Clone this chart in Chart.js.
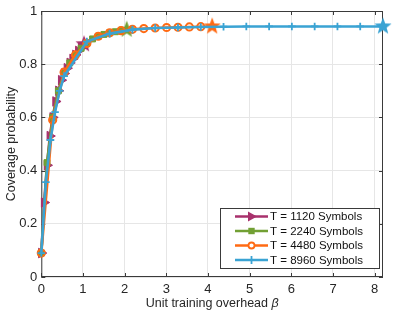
<!DOCTYPE html>
<html>
<head>
<meta charset="utf-8">
<script src="https://cdn.jsdelivr.net/npm/chart.js@4.4.1/dist/chart.umd.min.js"></script>
<style>
  html, body { margin: 0; padding: 0; background: #fff; }
  #wrap { width: 394px; height: 313px; }
</style>
</head>
<body>
<div id="wrap"><canvas id="c" width="394" height="313"></canvas></div>
<script>
// tick labels
const xTicks = [0, 1, 2, 3, 4, 5, 6, 7, 8];
const yTicks = [0, 0.2, 0.4, 0.6, 0.8, 1];

// series
const seriesNames = ['T = 1120 Symbols', 'T = 2240 Symbols', 'T = 4480 Symbols', 'T = 8960 Symbols'];

const beta1120 = [0, 0.068, 0.137, 0.205, 0.273, 0.342, 0.41, 0.478, 0.547, 0.615, 0.683, 0.752, 0.82, 0.888, 0.957, 1.025];
const cov1120  = [0.09, 0.28, 0.42, 0.53, 0.6, 0.66, 0.7, 0.74, 0.765, 0.785, 0.805, 0.82, 0.835, 0.85, 0.862, 0.875];

const beta2240 = [0, 0.137, 0.273, 0.41, 0.547, 0.683, 0.82, 0.957, 1.093, 1.23, 1.367, 1.503, 1.64, 1.777, 1.913, 2.05];
const cov2240  = [0.09, 0.43, 0.6, 0.7, 0.765, 0.805, 0.835, 0.86, 0.88, 0.895, 0.905, 0.912, 0.918, 0.922, 0.926, 0.93];

const beta4480 = [0, 0.273, 0.547, 0.82, 1.093, 1.367, 1.64, 1.913, 2.187, 2.46, 2.733, 3.007, 3.28, 3.553, 3.827, 4.1];
const cov4480  = [0.09, 0.59, 0.77, 0.835, 0.878, 0.905, 0.918, 0.926, 0.931, 0.934, 0.936, 0.938, 0.939, 0.94, 0.941, 0.942];

const beta8960 = [0, 0.11, 0.22, 0.33, 0.44, 0.547, 1.093, 1.64, 2.187, 2.733, 3.28, 3.827, 4.373, 4.92, 5.467, 6.013, 6.56, 7.107, 7.653, 8.2];
const cov8960  = [0.09, 0.357, 0.515, 0.62, 0.7, 0.755, 0.885, 0.915, 0.93, 0.936, 0.938, 0.94, 0.941, 0.942, 0.942, 0.942, 0.942, 0.942, 0.942, 0.942];

const colors = ['#A8316C', '#72A034', '#FF6A13', '#3AA3D3'];

const FONT = '"Liberation Sans", Arial, Helvetica, sans-serif';

// filled pentagram used for the last point of each curve
function makeStar(color, r) {
  const cv = document.createElement('canvas');
  const s = Math.ceil(r * 2 + 2);
  cv.width = s; cv.height = s;
  const g = cv.getContext('2d');
  const c = s / 2;
  g.beginPath();
  for (let i = 0; i < 10; i++) {
    const rad = i % 2 === 0 ? r : r * 0.42;
    const a = -Math.PI / 2 + i * Math.PI / 5;
    const px = c + rad * Math.cos(a), py = c + rad * Math.sin(a);
    if (i === 0) g.moveTo(px, py); else g.lineTo(px, py);
  }
  g.closePath();
  g.fillStyle = color;
  g.fill();
  return cv;
}

function toXY(xs, ys) { return xs.map((x, i) => ({ x: x, y: ys[i] })); }

const markers = [
  { style: 'triangle', rot: 90, r: 5.5, fill: colors[0], bw: 1 },
  { style: 'rect', rot: 0, r: 4.2, fill: colors[1], bw: 1 },
  { style: 'circle', rot: 0, r: 3.6, fill: 'rgba(255,255,255,0)', bw: 2 },
  { style: 'cross', rot: 0, r: 3.8, fill: colors[3], bw: 1.8 }
];

const allBeta = [beta1120, beta2240, beta4480, beta8960];
const allCov = [cov1120, cov2240, cov4480, cov8960];

const datasets = seriesNames.map((name, k) => {
  const star = makeStar(colors[k], 9);
  const last = allBeta[k].length - 1;
  const m = markers[k];
  return {
    label: name,
    data: toXY(allBeta[k], allCov[k]),
    borderColor: colors[k],
    backgroundColor: colors[k],
    borderWidth: 2.6,
    tension: 0,
    clip: false,
    order: 4 - k,
    pointStyle: ctx => ctx.dataIndex === last ? star : m.style,
    pointRotation: ctx => ctx.dataIndex === last ? 0 : m.rot,
    pointRadius: ctx => ctx.dataIndex === last ? 9 : m.r,
    pointBackgroundColor: m.fill,
    pointBorderColor: colors[k],
    pointBorderWidth: m.bw
  };
});

// box, inward ticks, axis titles and legend in MATLAB style
const framePlugin = {
  id: 'frame',
  beforeDatasetsDraw(chart) {
    const { ctx, chartArea: a, scales } = chart;
    ctx.save();
    ctx.strokeStyle = '#3a3a3a';
    ctx.lineWidth = 1;
    ctx.strokeRect(a.left + 0.5, a.top + 0.5, a.right - a.left - 1, a.bottom - a.top - 1);
    ctx.beginPath();
    xTicks.forEach(v => {
      const px = Math.round(scales.x.getPixelForValue(v)) + 0.5;
      ctx.moveTo(px, a.bottom); ctx.lineTo(px, a.bottom - 4);
      ctx.moveTo(px, a.top); ctx.lineTo(px, a.top + 4);
    });
    yTicks.forEach(v => {
      const py = Math.round(scales.y.getPixelForValue(v)) + 0.5;
      ctx.moveTo(a.left, py); ctx.lineTo(a.left + 4, py);
      ctx.moveTo(a.right, py); ctx.lineTo(a.right - 4, py);
    });
    ctx.stroke();
    ctx.restore();
  },
  afterDraw(chart) {
    const { ctx, chartArea: a } = chart;
    ctx.save();
    ctx.fillStyle = '#262626';
    // y title
    ctx.font = '12.5px ' + FONT;
    ctx.textAlign = 'center';
    ctx.textBaseline = 'middle';
    ctx.translate(11.5, (a.top + a.bottom) / 2);
    ctx.rotate(-Math.PI / 2);
    ctx.fillText('Coverage probability', 0, 0);
    ctx.setTransform(1, 0, 0, 1, 0, 0);
    // x title with italic beta
    const t1 = 'Unit training overhead ';
    const t2 = '\u03B2';
    ctx.font = '12.5px ' + FONT;
    const w1 = ctx.measureText(t1).width;
    ctx.font = 'italic 12.5px ' + FONT;
    const w2 = ctx.measureText(t2).width;
    let x0 = (a.left + a.right) / 2 - (w1 + w2) / 2;
    ctx.textAlign = 'left';
    ctx.textBaseline = 'alphabetic';
    ctx.font = '12.5px ' + FONT;
    ctx.fillText(t1, x0, 307);
    ctx.font = 'italic 12.5px ' + FONT;
    ctx.fillText(t2, x0 + w1, 307);

    // legend
    const bx = 220.5, by = 208.5, bw = 159, bh = 60;
    ctx.fillStyle = '#fff';
    ctx.fillRect(bx, by, bw, bh);
    ctx.strokeStyle = '#3a3a3a';
    ctx.lineWidth = 1;
    ctx.strokeRect(bx, by, bw, bh);
    const rowsY = [216.5, 231, 245.5, 260];
    seriesNames.forEach((name, k) => {
      const y = rowsY[k];
      ctx.strokeStyle = colors[k];
      ctx.lineWidth = 2.6;
      ctx.beginPath();
      ctx.moveTo(235, y); ctx.lineTo(268, y);
      ctx.stroke();
      const cx = 251.5;
      ctx.fillStyle = colors[k];
      ctx.beginPath();
      if (k === 0) {
        ctx.moveTo(cx - 3.5, y - 5); ctx.lineTo(cx + 5.5, y); ctx.lineTo(cx - 3.5, y + 5);
        ctx.closePath(); ctx.fill();
      } else if (k === 1) {
        ctx.fillRect(cx - 3.2, y - 3.2, 6.4, 6.4);
      } else if (k === 2) {
        ctx.arc(cx, y, 3, 0, Math.PI * 2);
        ctx.fillStyle = '#fff'; ctx.fill();
        ctx.lineWidth = 1.8; ctx.stroke();
      } else {
        ctx.lineWidth = 1.8;
        ctx.moveTo(cx, y - 4); ctx.lineTo(cx, y + 4);
        ctx.stroke();
      }
      ctx.fillStyle = '#111';
      ctx.font = '11.5px ' + FONT;
      ctx.textAlign = 'left';
      ctx.textBaseline = 'middle';
      ctx.fillText(name, 270, y + 0.5);
    });
    ctx.restore();
  }
};

new Chart(document.getElementById('c').getContext('2d'), {
  type: 'line',
  data: { datasets: datasets },
  options: {
    responsive: false,
    animation: false,
    events: [],
    layout: { padding: { top: 6, right: 10.7, left: 0, bottom: 0 } },
    plugins: { legend: { display: false }, tooltip: { enabled: false } },
    scales: {
      x: {
        type: 'linear',
        min: 0,
        max: 8.2,
        afterBuildTicks: s => { s.ticks = xTicks.map(v => ({ value: v })); },
        afterFit: s => { s.height = 36; s.paddingLeft = 0; s.paddingRight = 0; },
        ticks: { color: '#262626', font: { family: FONT, size: 13 }, padding: 5, maxRotation: 0, callback: v => String(v) },
        grid: { color: '#e6e6e6', drawTicks: false },
        border: { display: false }
      },
      y: {
        type: 'linear',
        min: 0,
        max: 1,
        afterBuildTicks: s => { s.ticks = yTicks.map(v => ({ value: v })); },
        afterFit: s => { s.width = 41.3; s.paddingTop = 0; s.paddingBottom = 0; },
        ticks: { color: '#262626', font: { family: FONT, size: 13 }, padding: 4, callback: v => String(Math.round(v * 10) / 10) },
        grid: { color: '#e6e6e6', drawTicks: false },
        border: { display: false }
      }
    }
  },
  plugins: [framePlugin]
});
</script>
</body>
</html>
